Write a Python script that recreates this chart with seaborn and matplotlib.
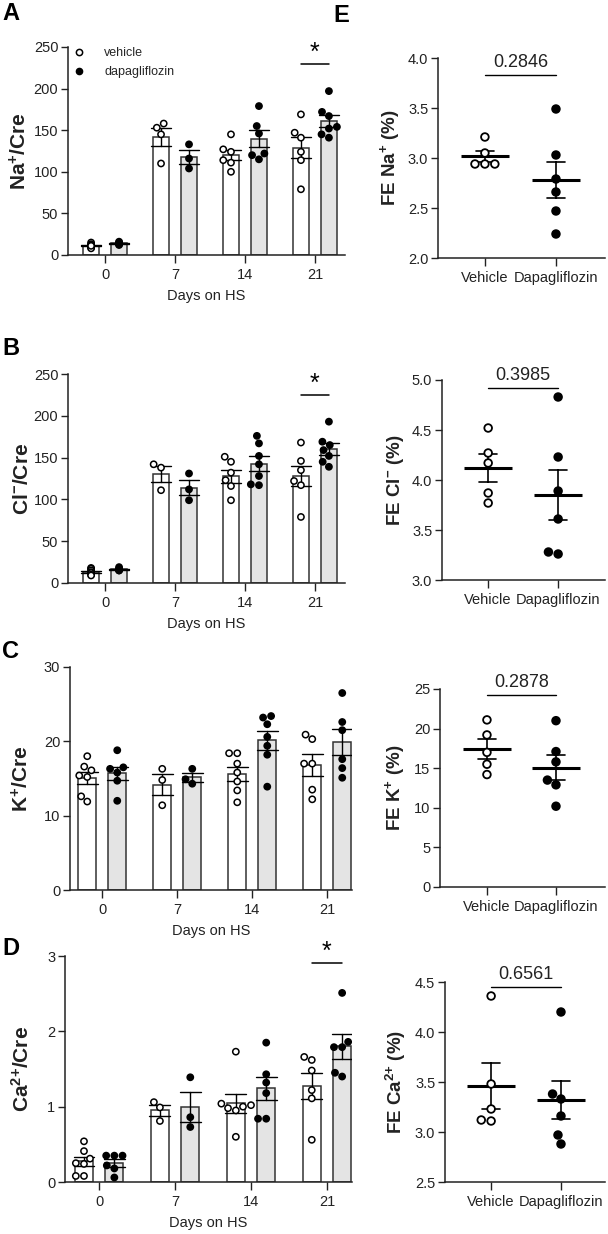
import numpy as np
import pandas as pd
import matplotlib.pyplot as plt
import seaborn as sns
from matplotlib.lines import Line2D
from matplotlib.ticker import FormatStrFormatter

# values (one list per day: 0, 7, 14, 21)
days = ['0', '7', '14', '21']
groups = ['vehicle', 'dapagliflozin']
fe_groups = ['Vehicle', 'Dapagliflozin']

na_vehicle = [[15, 13, 12, 10, 9, 8, 11], [158, 153, 145, 110],
              [145, 127, 124, 114, 111, 100], [169, 147, 141, 124, 114, 79]]
na_dapa = [[16, 15, 14, 13, 13, 12], [133, 116, 104],
           [179, 155, 146, 122, 115, 120], [197, 172, 167, 154, 152, 141, 145]]

cl_vehicle = [[18, 17, 15, 13, 12, 10, 9], [142, 138, 111],
              [151, 145, 132, 123, 116, 99], [168, 146, 135, 122, 117, 79]]
cl_dapa = [[19, 17, 16, 16, 15, 15], [131, 112, 99],
           [176, 167, 152, 142, 128, 118, 117], [193, 169, 165, 159, 152, 145, 139]]

k_vehicle = [[18.0, 16.6, 16.1, 15.4, 15.2, 12.6, 11.9], [16.3, 14.8, 11.4],
             [18.4, 18.4, 17.0, 15.8, 14.6, 13.4, 11.8], [20.9, 20.3, 17.0, 17.0, 13.5, 12.2]]
k_dapa = [[18.8, 16.5, 16.3, 15.8, 14.7, 12.0], [16.3, 14.9, 14.3],
          [23.4, 23.2, 22.3, 20.6, 19.4, 18.2, 13.9], [26.5, 22.6, 21.5, 17.6, 16.4, 15.1]]

ca_vehicle = [[0.54, 0.41, 0.31, 0.25, 0.24, 0.08, 0.08], [1.06, 0.99, 0.81],
              [1.73, 1.04, 1.02, 1.00, 0.98, 0.95, 0.60], [1.66, 1.62, 1.48, 1.22, 1.11, 0.56]]
ca_dapa = [[0.35, 0.35, 0.35, 0.22, 0.18, 0.06], [1.39, 0.86, 0.73],
           [1.85, 1.43, 1.32, 1.18, 0.84, 0.84], [2.51, 1.86, 1.79, 1.79, 1.45, 1.40]]

fe_na_vehicle = [3.21, 3.05, 2.94, 2.94, 2.94]
fe_na_dapa = [3.49, 3.03, 2.79, 2.66, 2.47, 2.24]
fe_cl_vehicle = [4.52, 4.27, 4.17, 3.87, 3.77]
fe_cl_dapa = [4.83, 4.23, 3.89, 3.61, 3.26, 3.28]
fe_k_vehicle = [21.1, 19.2, 17.0, 15.5, 14.2]
fe_k_dapa = [21.0, 17.1, 15.8, 13.5, 12.9, 10.2]
fe_ca_vehicle = [4.36, 3.48, 3.23, 3.11, 3.12]
fe_ca_dapa = [4.20, 3.38, 3.33, 3.16, 2.97, 2.88]

p_values = ['0.2846', '0.3985', '0.2878', '0.6561']

W, H = 608, 1234
DARK = '#222222'

sns.set_theme(style='ticks')
plt.rcParams['font.family'] = ['Liberation Sans', 'DejaVu Sans']
plt.rcParams['mathtext.fontset'] = 'custom'
plt.rcParams['mathtext.rm'] = 'Liberation Sans'
plt.rcParams['mathtext.bf'] = 'Liberation Sans:bold'
plt.rcParams['mathtext.default'] = 'bf'
plt.rcParams['axes.edgecolor'] = DARK
plt.rcParams['axes.linewidth'] = 1.1
plt.rcParams['xtick.color'] = DARK
plt.rcParams['ytick.color'] = DARK

fig = plt.figure(figsize=(W / 100, H / 100), dpi=100)


def place(l, t, r, b):
    return fig.add_axes([l / W, 1 - b / H, (r - l) / W, (b - t) / H])


def style_axes(ax, rect, ylim, step, fmt, label, label_x, label_size, xlabel):
    l, t, r, b = rect
    ax.set_ylim(*ylim)
    ax.set_yticks(np.arange(ylim[0], ylim[1] + step / 2, step))
    ax.yaxis.set_major_formatter(FormatStrFormatter(fmt))
    sns.despine(ax=ax)
    ax.tick_params(axis='y', length=5, width=1.0, pad=2, labelsize=10.5)
    ax.tick_params(axis='x', length=6, width=1.0, pad=3.5, labelsize=10.5)
    ax.set_ylabel(label, fontsize=label_size, fontweight='bold', color=DARK)
    ax.yaxis.set_label_coords(label_x / W, 1 - (t + b) / 2 / H, transform=fig.transFigure)
    ax.set_xlabel(xlabel, fontsize=10.5, color=DARK)
    ax.xaxis.set_label_coords(((l + r) / 2) / W, 1 - (b + 34) / H, transform=fig.transFigure)


def bar_panel(vehicle, dapa, rect, ylim, step, xlim, label, label_x, star_y, packed_days):
    ax = place(*rect)
    rows = []
    for g, series in zip(groups, [vehicle, dapa]):
        for d, vals in zip(days, series):
            rows += [(d, g, v) for v in vals]
    df = pd.DataFrame(rows, columns=['day', 'group', 'value'])
    sns.barplot(df, x='day', y='value', hue='group', order=days, hue_order=groups,
                palette={'vehicle': 'white', 'dapagliflozin': '#e4e4e4'}, saturation=1,
                errorbar='se', capsize=0.55, gap=0.4, edgecolor='#333333', linewidth=1.1,
                err_kws={'color': 'black', 'linewidth': 1.0}, legend=False, ax=ax)
    point_kws = dict(x='day', y='value', hue='group', order=days, hue_order=groups, dodge=True,
                     palette={'vehicle': 'white', 'dapagliflozin': 'black'},
                     edgecolor='black', linewidth=1.1, size=4.5, legend=False, ax=ax)
    packed = df['day'].isin(packed_days)
    sns.swarmplot(df[~packed], **point_kws)
    if packed.any():
        # tightly clustered baseline values: keep them on the bar centre
        sns.stripplot(df[packed], jitter=False, **point_kws)
    ax.set_xlim(*xlim)
    style_axes(ax, rect, ylim, step, '%d', label, label_x, 15, 'Days on HS')
    if star_y is not None:
        ax.plot([2.8, 3.2], [star_y, star_y], color='black', lw=1.1, clip_on=False)
        ax.annotate('*', xy=(3, star_y), xytext=(0, -1), textcoords='offset points',
                    ha='center', va='bottom', fontsize=18, color='black')
    return ax


def fe_panel(vehicle, dapa, rect, ylim, step, fmt, xlim, label, label_x, p_text, p_y):
    ax = place(*rect)
    df = pd.DataFrame({'group': ['Vehicle'] * len(vehicle) + ['Dapagliflozin'] * len(dapa),
                       'value': vehicle + dapa})
    sns.swarmplot(df, x='group', y='value', hue='group', order=fe_groups,
                  palette={'Vehicle': 'white', 'Dapagliflozin': 'black'},
                  edgecolor='black', linewidth=1.3, size=5.5, legend=False, ax=ax)
    sns.pointplot(df, x='group', y='value', order=fe_groups, color='black',
                  errorbar='se', capsize=0.26, marker='_', markersize=34,
                  markeredgewidth=2.2, linestyle='none', err_kws={'linewidth': 1.2}, ax=ax)
    ax.set_xlim(*xlim)
    style_axes(ax, rect, ylim, step, fmt, label, label_x, 13.5, '')
    ax.plot([0, 1], [p_y, p_y], color='black', lw=1.0, clip_on=False)
    ax.annotate(p_text, xy=(0.5, p_y), xytext=(0, 3), textcoords='offset points',
                ha='center', va='bottom', fontsize=13, color=DARK)
    return ax


ax_a = bar_panel(na_vehicle, na_dapa, (68, 47, 345, 255), (0, 250), 50, (-0.53, 3.43),
                 'Na$^{{+}}$/Cre', 30, 230, ['0'])
bar_panel(cl_vehicle, cl_dapa, (68, 374, 345, 583), (0, 250), 50, (-0.53, 3.43),
          'Cl$^{{-}}$/Cre', 32, 225, ['0'])
bar_panel(k_vehicle, k_dapa, (70, 667, 352, 890), (0, 30), 10, (-0.43, 3.33),
          'K$^{{+}}$/Cre', 32, None, [])
bar_panel(ca_vehicle, ca_dapa, (65, 956, 352, 1182), (0, 3), 1, (-0.45, 3.33),
          'Ca$^{2{+}}$/Cre', 33, 2.91, [])

fe_panel(fe_na_vehicle, fe_na_dapa, (438, 58, 605, 258), (2, 4), 0.5, '%.1f', (-0.66, 1.69),
         'FE Na$^{{+}}$ (%)', 402, p_values[0], 3.83)
fe_panel(fe_cl_vehicle, fe_cl_dapa, (442, 380, 605, 580), (3, 5), 0.5, '%.1f', (-0.66, 1.67),
         'FE Cl$^{{-}}$ (%)', 406, p_values[1], 4.92)
fe_panel(fe_k_vehicle, fe_k_dapa, (440, 689, 605, 887), (0, 25), 5, '%d', (-0.68, 1.71),
         'FE K$^{{+}}$ (%)', 407, p_values[2], 24.2)
fe_panel(fe_ca_vehicle, fe_ca_dapa, (445, 982, 605, 1182), (2.5, 4.5), 0.5, '%.1f', (-0.66, 1.63),
         'FE Ca$^{2{+}}$ (%)', 408, p_values[3], 4.45)

# legend of panel A
handles = [Line2D([], [], marker='o', ls='none', mfc='white', mec='black', mew=1.1, ms=4.5),
           Line2D([], [], marker='o', ls='none', mfc='black', mec='black', ms=4.5)]
ax_a.legend(handles, groups, loc='upper left', bbox_to_anchor=(73 / W, 1 - 47 / H),
            bbox_transform=fig.transFigure, frameon=False, fontsize=9, handlelength=1,
            handletextpad=1.5, labelspacing=0.6, borderpad=0, borderaxespad=0)

for letter, x, y in [('A', 2, 20), ('B', 2, 355), ('C', 2, 658), ('D', 2, 955), ('E', 333, 22)]:
    fig.text(x / W, 1 - y / H, letter, fontsize=17, fontweight='bold', va='baseline', color='black')

fig.savefig('out.png', dpi=100)
